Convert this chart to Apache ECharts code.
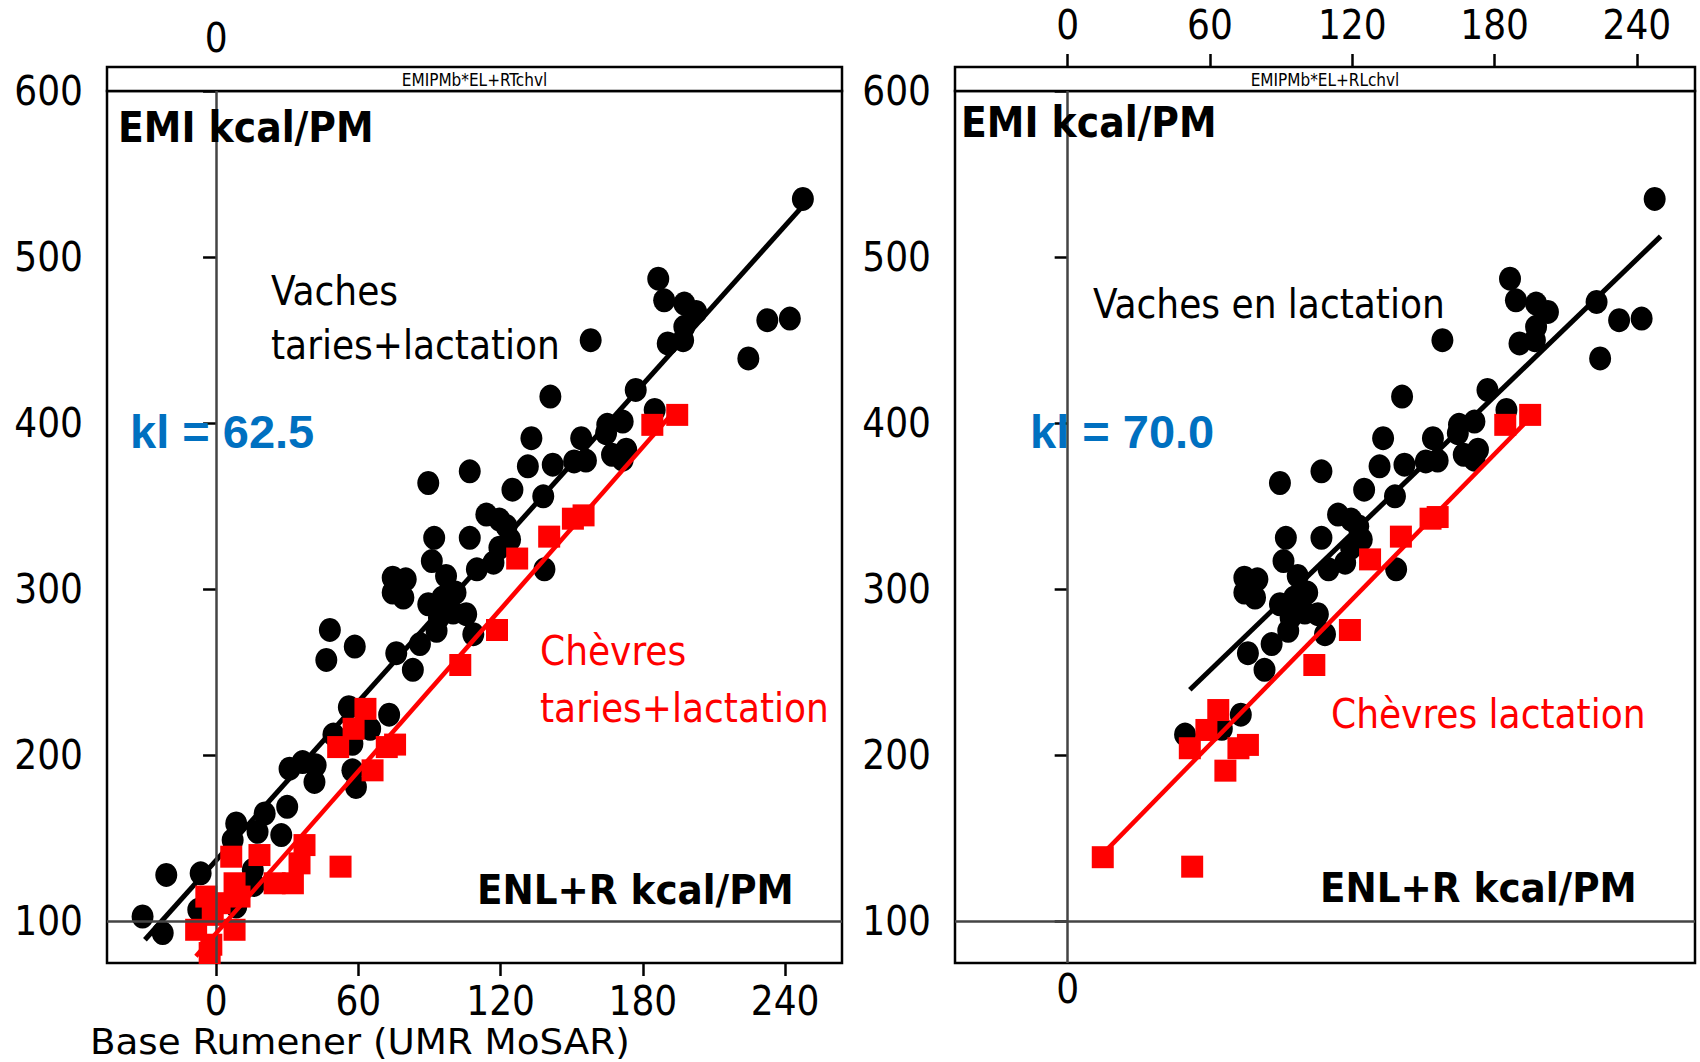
<!DOCTYPE html>
<html>
<head>
<meta charset="utf-8">
<script src="https://cdn.jsdelivr.net/npm/echarts@6/dist/echarts.min.js"></script>
<style>
html,body{margin:0;padding:0;background:#fff;}
#chart{width:1700px;height:1062px;}
</style>
</head>
<body>
<div id="chart"></div>
<script>
// ---- tick labels ----
const yTicks = [100, 200, 300, 400, 500, 600];
const xTicks = [0, 60, 120, 180, 240];
const xZeroOnly = [0];

// ---- left panel: vaches taries+lactation (circles) ----
const leftCowX = [-31, -22.5, -21, -6.5, -7.5, 8.5, 7, 20.5, 17.5, 30, 27.5, 15.5, 16, 8.5, 31, 36.5, 42, 41.5, 57.5, 59, 56, 57.5, 48, 58.5, 46.5,
  247.5, 186.5, 189, 197.5, 202.5, 197.5, 190.5, 197, 158, 232.5, 242, 224.5, 177, 141, 185, 165, 171.5, 133, 154, 164.5, 167, 151, 156, 173, 171.5,
  142, 131.5, 107, 89.5, 125, 138, 114, 119.5, 122.5, 92, 107, 124, 119.5, 91, 97, 110, 117, 138.5, 74.5, 80, 74.5, 79, 89.5, 95.5, 101, 94, 100, 105.5,
  93, 108.5, 86, 76, 83, 73, 65, 49.5];
const leftCowY = [103, 93, 128, 129, 107, 159, 149, 165, 154, 169, 152, 131, 122, 109, 192, 196, 194, 184, 191, 181, 229, 207, 275.5, 265.5, 257.5,
  535, 487, 474, 472, 467, 458, 448, 450, 450, 462, 463, 439, 420, 416, 408, 399, 401, 391, 391, 394, 381, 377, 377.5, 384, 378,
  375, 374, 371, 364, 360, 356, 345, 342, 338, 331, 331, 330, 325, 317, 308, 312, 316, 312, 307, 306, 298, 295, 291, 295, 298, 283, 286, 285,
  275, 273, 267, 261.5, 251.5, 224.5, 216, 212.5];

// ---- left panel: chevres taries+lactation (squares) ----
const leftGoatX = [184, 194.5, 155, 150.5, 140.5, 127, 118.5, 103, 63, 58, 51.5, 72, 75.5, 66, 52.5, 18.3,
  37.3, 35.2, 32.4, 24.7, 6.4, 7.8, 9.9, -4.1, 1.5, -1.4, -8.4, 7.8, -2, -2.7];
const leftGoatY = [399, 405, 344.5, 342.5, 331.7, 318.5, 275.5, 254.4, 228, 216, 205, 205, 206.5, 191, 133, 140,
  146, 135, 123, 123, 139, 123, 115, 115, 111, 104, 95, 95, 86, 81];

// ---- right panel: vaches en lactation ----
const rightCowX = [247.5, 186.5, 189, 197.5, 202.5, 197.5, 190.5, 197, 158, 232.5, 242, 224.5, 223, 177, 141, 185, 165, 171.5, 133, 154, 164.5, 167, 151, 156, 173, 171.5,
  142, 131.5, 107, 89.5, 125, 138, 114, 119.5, 122.5, 92, 107, 124, 119.5, 91, 97, 110, 117, 138.5, 74.5, 80, 74.5, 79, 89.5, 95.5, 101, 94, 100, 105.5,
  93, 108.5, 86, 76, 83, 73, 65, 49.5];
const rightCowY = [535, 487, 474, 472, 467, 458, 448, 450, 450, 462, 463, 439, 473, 420, 416, 408, 399, 401, 391, 391, 394, 381, 377, 377.5, 384, 378,
  375, 374, 371, 364, 360, 356, 345, 342, 338, 331, 331, 330, 325, 317, 308, 312, 316, 312, 307, 306, 298, 295, 291, 295, 298, 283, 286, 285,
  275, 273, 267, 261.5, 251.5, 224.5, 216, 212.5];

// ---- right panel: chevres lactation ----
const rightGoatX = [184.5, 195, 156, 153, 140.5, 127.5, 119, 104, 63.5, 58.5, 51.5, 72, 76, 66.5, 52.5, 14.8];
const rightGoatY = [399, 405, 343.5, 342.5, 331.7, 318, 275.5, 254.4, 227.3, 215.3, 204.3, 204.3, 206.3, 190.8, 133, 138.7];

// ---- regression lines (end points) ----
const leftCowLineX = [-30, 249.5];
const leftCowLineY = [89, 534];
const leftGoatLineX = [-8.5, 195];
const leftGoatLineY = [79, 410];
const rightCowLineX = [51.5, 250];
const rightCowLineY = [239.5, 512.5];
const rightGoatLineX = [15, 195.5];
const rightGoatLineY = [141, 404];

// ---- texts ----
const stripTitles = ['EMIPMb*EL+RTchvl', 'EMIPMb*EL+RLchvl'];
const klTexts = ['kl = 62.5', 'kl = 70.0'];
const xAxisName = 'Base Rumener (UMR MoSAR)';

const zip = (xs, ys) => xs.map((x, i) => [x, ys[i]]);
const FONT = '"DejaVu Sans Condensed", "Liberation Sans Narrow", "DejaVu Sans", sans-serif';
const RED = '#ff0000';
const BLUE = '#0070c0';

const grids = [
  {left: 107, top: 91, width: 735, height: 872, show: true, borderColor: '#000', borderWidth: 2.5, backgroundColor: 'transparent'},
  {left: 955, top: 91, width: 740, height: 872, show: true, borderColor: '#000', borderWidth: 2.5, backgroundColor: 'transparent'}
];

function xAxisCfg(gridIndex, position, min, max, values, showTick, margin, offset) {
  return {
    type: 'value', gridIndex, position, min, max, offset: offset || 0,
    axisLine: {show: false},
    splitLine: {show: false},
    axisTick: {show: showTick, inside: false, length: 13, lineStyle: {color: '#000', width: 2.5}, customValues: values},
    axisLabel: {show: true, customValues: values, fontSize: 40, lineHeight: 34, fontFamily: FONT, color: '#000', margin}
  };
}
function yAxisCfg(gridIndex) {
  return {
    type: 'value', gridIndex, min: 75, max: 600,
    axisLine: {show: false},
    splitLine: {show: false},
    axisTick: {show: true, inside: false, length: 13, lineStyle: {color: '#000', width: 2.5}, customValues: yTicks},
    axisLabel: {show: true, customValues: yTicks, fontSize: 40, lineHeight: 34, fontFamily: FONT, color: '#000', margin: 24}
  };
}

const xAxes = [
  xAxisCfg(0, 'bottom', -46, 264, xTicks, true, 21, 0),
  xAxisCfg(0, 'top', -46, 264, xZeroOnly, false, 12, 24),
  xAxisCfg(1, 'bottom', -47.5, 264.5, xZeroOnly, false, 9, 0),
  xAxisCfg(1, 'top', -47.5, 264.5, xTicks, true, 25, 24)
];
const yAxes = [yAxisCfg(0), yAxisCfg(1)];

function zeroLines(xi, yi) {
  return {
    type: 'scatter', xAxisIndex: xi, yAxisIndex: yi, data: [], z: 1, silent: true,
    markLine: {silent: true, symbol: 'none', label: {show: false}, animation: false,
      lineStyle: {color: '#444', width: 2.5, type: 'solid'},
      data: [{xAxis: 0}, {yAxis: 100}]}
  };
}
function cows(xi, yi, data) {
  return {type: 'scatter', xAxisIndex: xi, yAxisIndex: yi, data, symbol: 'circle', symbolSize: [22, 24], z: 2,
    itemStyle: {color: '#000', opacity: 1}};
}
function goats(xi, yi, data) {
  return {type: 'scatter', xAxisIndex: xi, yAxisIndex: yi, data, symbol: 'rect', symbolSize: 22, z: 4,
    itemStyle: {color: RED, opacity: 1}};
}
function regLine(xi, yi, data, color, width, z) {
  return {type: 'line', xAxisIndex: xi, yAxisIndex: yi, data, showSymbol: false, symbol: 'none', z,
    lineStyle: {color, width}, silent: true};
}

function txt(x, y, text, font, fill, align, lh) {
  const style = {text, font, fill, textAlign: align || 'left', textVerticalAlign: 'middle'};
  if (lh) style.lineHeight = lh;
  return {type: 'text', x, y, z: 10, silent: true, style};
}

const F40 = '40px ' + FONT;
const B42 = 'bold 42px ' + FONT;
const B41 = 'bold 41.5px ' + FONT;
const KL = 'bold 47px "Liberation Sans", Arial, sans-serif';

const nameText = txt(90, 1041, xAxisName, '36px ' + FONT, '#000', 'left', 34);
nameText.scaleX = 1.15;

const graphics = [
  {type: 'rect', shape: {x: 107, y: 67, width: 735, height: 24}, style: {fill: '#fff', stroke: '#000', lineWidth: 2.5}, z: 5},
  {type: 'rect', shape: {x: 955, y: 67, width: 740, height: 24}, style: {fill: '#fff', stroke: '#000', lineWidth: 2.5}, z: 5},
  txt(474.5, 80, stripTitles[0], '17px ' + FONT, '#000', 'center'),
  txt(1325, 80, stripTitles[1], '17px ' + FONT, '#000', 'center'),
  // left panel
  txt(118, 127, 'EMI kcal/PM', B42, '#000'),
  txt(271, 291, 'Vaches', F40, '#000'),
  txt(271, 345, 'taries+lactation', F40, '#000'),
  txt(130, 431, klTexts[0], KL, BLUE),
  txt(540, 651, 'Chèvres', F40, RED),
  txt(540, 708, 'taries+lactation', F40, RED),
  txt(477, 889, 'ENL+R kcal/PM', B41, '#000'),
  // right panel
  txt(961, 122, 'EMI kcal/PM', B42, '#000'),
  txt(1093, 304, 'Vaches en lactation', F40, '#000'),
  txt(1030, 431, klTexts[1], KL, BLUE),
  txt(1331, 714, 'Chèvres lactation', F40, RED),
  txt(1320, 887, 'ENL+R kcal/PM', B41, '#000'),
  // axis name
  nameText
];

const chart = echarts.init(document.getElementById('chart'), null, {renderer: 'svg', width: 1700, height: 1062});
chart.setOption({
  animation: false,
  backgroundColor: '#fff',
  grid: grids,
  xAxis: xAxes,
  yAxis: yAxes,
  graphic: graphics,
  series: [
    zeroLines(0, 0),
    cows(0, 0, zip(leftCowX, leftCowY)),
    regLine(0, 0, zip(leftCowLineX, leftCowLineY), '#000', 5, 3),
    goats(0, 0, zip(leftGoatX, leftGoatY)),
    regLine(0, 0, zip(leftGoatLineX, leftGoatLineY), RED, 4.5, 5),
    zeroLines(2, 1),
    cows(2, 1, zip(rightCowX, rightCowY)),
    regLine(2, 1, zip(rightCowLineX, rightCowLineY), '#000', 5, 3),
    goats(2, 1, zip(rightGoatX, rightGoatY)),
    regLine(2, 1, zip(rightGoatLineX, rightGoatLineY), RED, 4.5, 5)
  ]
});
</script>
</body>
</html>
